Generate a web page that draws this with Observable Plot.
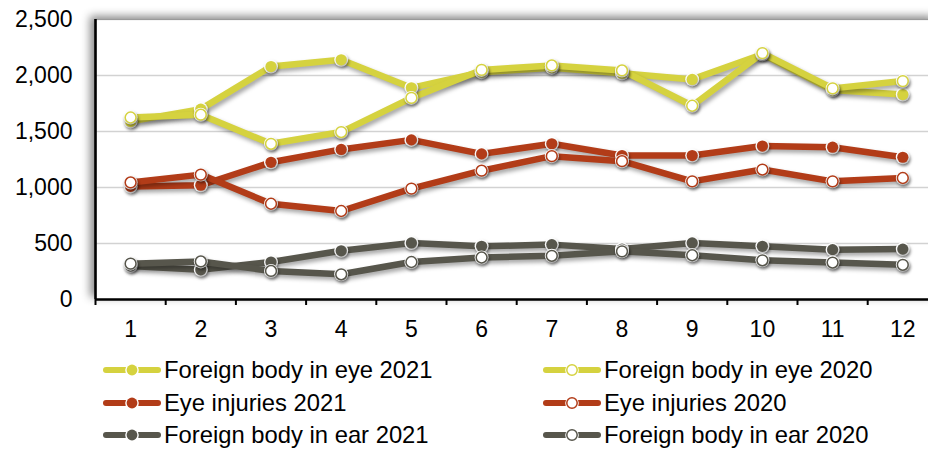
<!DOCTYPE html>
<html><head><meta charset="utf-8">
<script src="https://cdn.jsdelivr.net/npm/d3@7"></script>
<script src="https://cdn.jsdelivr.net/npm/@observablehq/plot@0.6"></script>
<style>
body{margin:0;background:#fff;overflow:hidden;font-family:"Liberation Sans",Arial,sans-serif;}
#wrap{position:relative;width:928px;height:453px;overflow:hidden;}
.leg{position:absolute;display:flex;align-items:center;font-size:23.8px;color:#000;white-space:nowrap;height:28px;}
.leg svg{margin-right:3px;overflow:visible;}
</style></head><body><div id="wrap"></div>
<script>
const months = [1, 2, 3, 4, 5, 6, 7, 8, 9, 10, 11, 12];
const yTicks = [0, 500, 1000, 1500, 2000, 2500];
const eye2021 = [1590, 1700, 2080, 2140, 1890, 2030, 2070, 2020, 1965, 2190, 1870, 1830];
const eye2020 = [1625, 1650, 1390, 1495, 1800, 2050, 2090, 2045, 1730, 2200, 1885, 1950];
const inj2021 = [1010, 1020, 1225, 1340, 1425, 1300, 1390, 1285, 1285, 1370, 1360, 1270];
const inj2020 = [1045, 1115, 855, 790, 990, 1150, 1280, 1235, 1055, 1160, 1055, 1085];
const ear2021 = [300, 265, 335, 435, 505, 475, 490, 450, 505, 475, 445, 450];
const ear2020 = [320, 340, 255, 225, 335, 375, 390, 430, 395, 350, 330, 310];
const seriesNames = ["Foreign body in eye 2021", "Foreign body in eye 2020", "Eye injuries 2021", "Eye injuries 2020", "Foreign body in ear 2021", "Foreign body in ear 2020"];
const seriesValues = [eye2021, eye2020, inj2021, inj2020, ear2021, ear2020];
const seriesColors = ["#d5d23f", "#d5d23f", "#b23c18", "#b23c18", "#57564c", "#57564c"];
const seriesHollow = [false, true, false, true, false, true];

const series = seriesNames.map((name, i) => ({
  name, color: seriesColors[i], hollow: seriesHollow[i],
  data: months.map((m, j) => ({month: m, value: seriesValues[i][j]}))
}));
const boundaries = months.map(m => m - 0.5).concat([months[months.length - 1] + 0.5]);

const seriesMarks = [];
for (const s of series) {
  seriesMarks.push(Plot.line(s.data, {x: "month", y: "value", stroke: s.color, strokeWidth: 6.5, strokeLinejoin: "round"}));
}
for (const s of series) {
  seriesMarks.push(Plot.dot(s.data, {x: "month", y: "value", r: 7, fill: "white", stroke: "none"}));
  if (s.hollow) {
    seriesMarks.push(Plot.dot(s.data, {x: "month", y: "value", r: 5.4, fill: "white", stroke: s.color, strokeWidth: 1.5}));
  } else {
    seriesMarks.push(Plot.dot(s.data, {x: "month", y: "value", r: 5.6, fill: s.color, stroke: "none"}));
  }
}

const chart = Plot.plot({
  width: 928, height: 345,
  marginLeft: 95, marginRight: -9.4, marginTop: 19, marginBottom: 46,
  x: {domain: [0.5, 12.5]},
  y: {domain: [0, 2500]},
  style: {fontFamily: "Liberation Sans, Arial, sans-serif", fontSize: "23px", background: "transparent", overflow: "hidden", color: "black"},
  marks: [
    Plot.frame({fill: "white", stroke: "#9a9a9a", strokeWidth: 1.2}),
    Plot.gridY(yTicks.filter(v => v > 0 && v < 2500), {stroke: "#d2d2d2", strokeOpacity: 1, strokeWidth: 1.6}),
    Plot.axisY(yTicks, {tickSize: 0, tickPadding: 23, tickFormat: d3.format(","), fontSize: 23, label: null}),
    Plot.axisX(boundaries, {tickSize: 6, tickFormat: () => "", stroke: "black", strokeWidth: 2, label: null}),
    Plot.axisX(months, {tickSize: 0, tickPadding: 21, fontSize: 23, label: null}),
    ...seriesMarks,
    Plot.ruleX([0.5], {stroke: "black", strokeWidth: 2.6}),
    Plot.ruleY([0], {stroke: "black", strokeWidth: 2.6})
  ]
});
d3.select(chart).selectAll('[aria-label="frame"]').style("filter", "drop-shadow(-5px -3px 4px rgba(0,0,0,0.45))");
d3.select(chart).selectAll('[aria-label="line"]').style("filter", "drop-shadow(2px 3px 2px rgba(0,0,0,0.35))");
d3.select(chart).selectAll('[aria-label="dot"]').style("filter", "drop-shadow(1.5px 2px 1.5px rgba(0,0,0,0.3))");
const wrap = document.getElementById("wrap");
wrap.appendChild(chart);

// legend
const rowCenters = [370, 402.5, 435];
const colSym = [103, 543];
series.forEach((s, i) => {
  const col = i % 2, row = Math.floor(i / 2);
  const div = document.createElement("div");
  div.className = "leg";
  div.style.left = colSym[col] + "px";
  div.style.top = (rowCenters[row] - 14) + "px";
  const ns = "http://www.w3.org/2000/svg";
  const svg = document.createElementNS(ns, "svg");
  svg.setAttribute("width", 58); svg.setAttribute("height", 14);
  const line = document.createElementNS(ns, "line");
  line.setAttribute("x1", 3); line.setAttribute("x2", 55); line.setAttribute("y1", 7); line.setAttribute("y2", 7);
  line.setAttribute("stroke", s.color); line.setAttribute("stroke-width", 6); line.setAttribute("stroke-linecap", "round");
  svg.appendChild(line);
  const halo = document.createElementNS(ns, "circle");
  halo.setAttribute("cx", 29); halo.setAttribute("cy", 7); halo.setAttribute("r", 6.8); halo.setAttribute("fill", "white");
  svg.appendChild(halo);
  const c = document.createElementNS(ns, "circle");
  c.setAttribute("cx", 29); c.setAttribute("cy", 7);
  if (s.hollow) { c.setAttribute("r", 5.2); c.setAttribute("fill", "white"); c.setAttribute("stroke", s.color); c.setAttribute("stroke-width", 1.5); }
  else { c.setAttribute("r", 5.4); c.setAttribute("fill", s.color); }
  svg.appendChild(c);
  div.appendChild(svg);
  const t = document.createElement("span");
  t.textContent = s.name;
  div.appendChild(t);
  wrap.appendChild(div);
});
</script></body></html>
